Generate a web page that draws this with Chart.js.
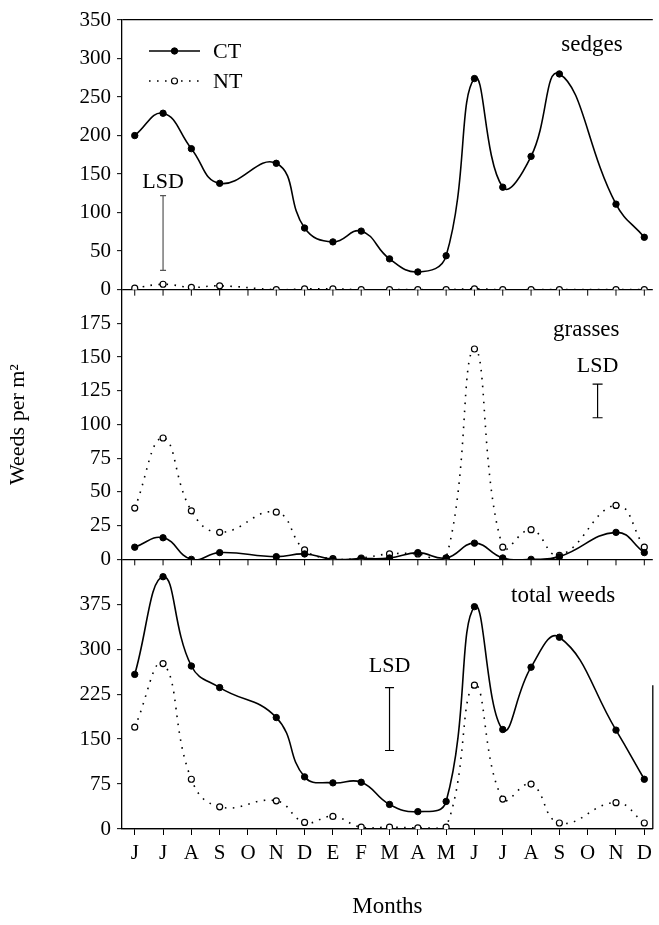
<!DOCTYPE html>
<html><head><meta charset="utf-8">
<script src="https://cdn.jsdelivr.net/npm/chart.js@4/dist/chart.umd.min.js"></script>
<style>html,body{margin:0;padding:0;background:#fff;}#wrap{position:relative;width:659px;height:925px;}</style>
</head><body><div id="wrap"><canvas id="c" width="659" height="925"></canvas></div>
<script>
// ---- data ----
const monthLabels = ['J','J','A','S','O','N','D','E','F','M','A','M','J','J','A','S','O','N','D'];
const sampleMonths = [0,1,2,3,5,6,7,8,9,10,11,12,13,14,15,17,18];
const sedgesCT  = [200,229,183,138,164,80,62,76,40,23,44,274,133,173,280,111,68];
const sedgesNT  = [2,7,3,5,0,1,1,0,0,0,0,1,0,0,0,0,0];
const grassesCT = [9,16,0,5,2,4,0,0.5,1,5,1,12,1,0,2,20,5];
const grassesNT = [38,90,36,20,35,7,0.5,1,4,4,1,156,9,22,3,40,9];
const totalCT   = [258,421,272,236,186,87,77,78,41,29,46,371,166,270,320,165,83];
const totalNT   = [170,276,83,37,47,11,21,3,3,2,3,240,50,75,10,44,10];
const sedgesTicks  = [0,50,100,150,200,250,300,350];
const grassesTicks = [0,25,50,75,100,125,150,175];
const totalTicks   = [0,75,150,225,300,375];
const lsdSedges  = {x:1,    low:25,  high:122};
const lsdGrasses = {x:16.35,low:105, high:130};
const lsdTotal   = {x:9,    low:131, high:236};
const panelNames = ['sedges','grasses','total weeds'];
const seriesNames = ['CT','NT'];

const SERIF = '"Liberation Serif","Times New Roman",serif';
const pts = arr => arr.map((v,i)=>({x:sampleMonths[i], y:v}));
const lsdPts = l => [{x:l.x,y:l.low},{x:l.x,y:l.high}];

function ctStyle(yID, data){
  return {label:'CT', yAxisID:yID, data:pts(data), borderColor:'#000', borderWidth:1.6,
    tension:0.45, pointRadius:3.2, pointBackgroundColor:'#000', pointBorderColor:'#000', pointBorderWidth:1, fill:false};
}
function ntStyle(yID, data){
  return {label:'NT', yAxisID:yID, data:pts(data), borderColor:'#000', borderWidth:1.6,
    borderDash:[1.6,6.4], tension:0.45, pointRadius:3, pointBackgroundColor:'#fff', pointBorderColor:'#000', pointBorderWidth:1.2, fill:false};
}
function lsdStyle(yID, l, r, col){
  return {label:'LSD', yAxisID:yID, data:lsdPts(l), borderColor:col, borderWidth:1.2, pointStyle:'line',
    pointRadius:r, pointBorderColor:col, pointBorderWidth:1.2, tension:0, fill:false};
}

const datasets = [
  ctStyle('ySedges', sedgesCT), ntStyle('ySedges', sedgesNT),
  ctStyle('yGrasses', grassesCT), ntStyle('yGrasses', grassesNT),
  ctStyle('yTotal', totalCT), ntStyle('yTotal', totalNT),
  lsdStyle('ySedges', lsdSedges, 3, '#555'),
  lsdStyle('yGrasses', lsdGrasses, 5, '#000'),
  lsdStyle('yTotal', lsdTotal, 4.5, '#000')
];

function yAxis(min,max,tickArr,title){
  return {
    type:'linear', position:'left', stack:'panels', stackWeight:1, min:min, max:max,
    afterBuildTicks: s => { s.ticks = tickArr.map(v=>({value:v})); },
    afterFit: s => { s.width = 122; },
    ticks:{ color:'#000', font:{family:SERIF, size:21}, padding:6, autoSkip:false },
    grid:{ drawOnChartArea:true, drawTicks:true, tickLength:5, tickColor:'#000', tickWidth:1,
      color: c => (c.tick && (c.tick.value===0 || (c.tick.value===350 && max===350))) ? '#000' : 'rgba(0,0,0,0)',
      lineWidth: 1.3 },
    border:{ display:true, color:'#000', width:1.3 },
    title: title ? {display:true, text:title, color:'#000', font:{family:SERIF, size:22}, padding:{top:5,bottom:0}} : {display:false}
  };
}

const deco = {
  id:'deco',
  afterDatasetsDraw(chart){
    const ctx = chart.ctx, x = chart.scales.x, ys = chart.scales.ySedges, yg = chart.scales.yGrasses, yt = chart.scales.yTotal;
    const ca = chart.chartArea;
    ctx.save();
    ctx.strokeStyle = '#000'; ctx.lineWidth = 1;
    // inner x tick marks at the bottom of the upper panels
    [ys, yg].forEach(sc => {
      const y0 = sc.getPixelForValue(0);
      monthLabels.forEach((m,i) => {
        const px = x.getPixelForValue(i);
        ctx.beginPath(); ctx.moveTo(px, y0); ctx.lineTo(px, y0+6); ctx.stroke();
      });
    });
    // partial right frame of the bottom panel
    ctx.lineWidth = 1.3;
    ctx.beginPath(); ctx.moveTo(ca.right, yt.getPixelForValue(240)); ctx.lineTo(ca.right, yt.getPixelForValue(0)); ctx.stroke();
    // panel names and LSD labels
    ctx.fillStyle = '#000'; ctx.textAlign = 'center'; ctx.textBaseline = 'middle';
    ctx.font = '23px ' + SERIF;
    ctx.fillText(panelNames[0], x.getPixelForValue(16.15), ys.getPixelForValue(317));
    ctx.fillText(panelNames[1], x.getPixelForValue(15.95), yg.getPixelForValue(170));
    ctx.fillText(panelNames[2], x.getPixelForValue(15.13), yt.getPixelForValue(389));
    ctx.font = '22px ' + SERIF;
    ctx.fillText('LSD', x.getPixelForValue(lsdSedges.x), ys.getPixelForValue(lsdSedges.high+18));
    ctx.fillText('LSD', x.getPixelForValue(lsdGrasses.x), yg.getPixelForValue(lsdGrasses.high+13));
    ctx.fillText('LSD', x.getPixelForValue(lsdTotal.x), yt.getPixelForValue(lsdTotal.high+35));
    // legend
    const lx0 = ca.left + 27, lx1 = ca.left + 78, tx = ca.left + 91;
    const rows = [{y: ca.top + 31, ds: datasets[0]}, {y: ca.top + 61, ds: datasets[1]}];
    ctx.textAlign = 'left'; ctx.font = '22px ' + SERIF;
    rows.forEach((r,k) => {
      ctx.lineWidth = r.ds.borderWidth;
      ctx.setLineDash(r.ds.borderDash || []);
      ctx.beginPath(); ctx.moveTo(lx0, r.y); ctx.lineTo(lx1, r.y); ctx.stroke();
      ctx.setLineDash([]);
      ctx.beginPath(); ctx.arc((lx0+lx1)/2, r.y, r.ds.pointRadius, 0, Math.PI*2);
      ctx.fillStyle = r.ds.pointBackgroundColor; ctx.fill();
      ctx.lineWidth = r.ds.pointBorderWidth; ctx.strokeStyle = '#000'; ctx.stroke();
      ctx.fillStyle = '#000';
      ctx.fillText(seriesNames[k], tx, r.y + 1);
    });
    ctx.restore();
  }
};

new Chart(document.getElementById('c'), {
  type:'line',
  data:{ datasets },
  options:{
    responsive:false, animation:false, events:[],
    layout:{ padding:{ top:20, right:5, left:0, bottom:0 } },
    plugins:{ legend:{display:false}, tooltip:{enabled:false} },
    scales:{
      x:{
        type:'linear', position:'bottom', min:-0.45, max:18.3,
        afterBuildTicks: s => { s.ticks = monthLabels.map((m,i)=>({value:i})); },
        afterFit: s => { s.height = 96; },
        ticks:{ color:'#000', font:{family:SERIF, size:21}, padding:6, maxRotation:0, autoSkip:false,
          callback: v => monthLabels[v] },
        grid:{ drawOnChartArea:false, drawTicks:true, tickLength:6, tickColor:'#000', color:'#000' },
        border:{ display:true, color:'#000', width:1.3 },
        title:{ display:true, text:'Months', color:'#000', font:{family:SERIF, size:23}, padding:{top:0,bottom:4} }
      },
      yTotal: yAxis(0,450,totalTicks,null),
      yGrasses: yAxis(0,200,grassesTicks,'Weeds per m\u00B2'),
      ySedges: yAxis(0,350,sedgesTicks,null)
    }
  },
  plugins:[deco]
});
</script></body></html>
